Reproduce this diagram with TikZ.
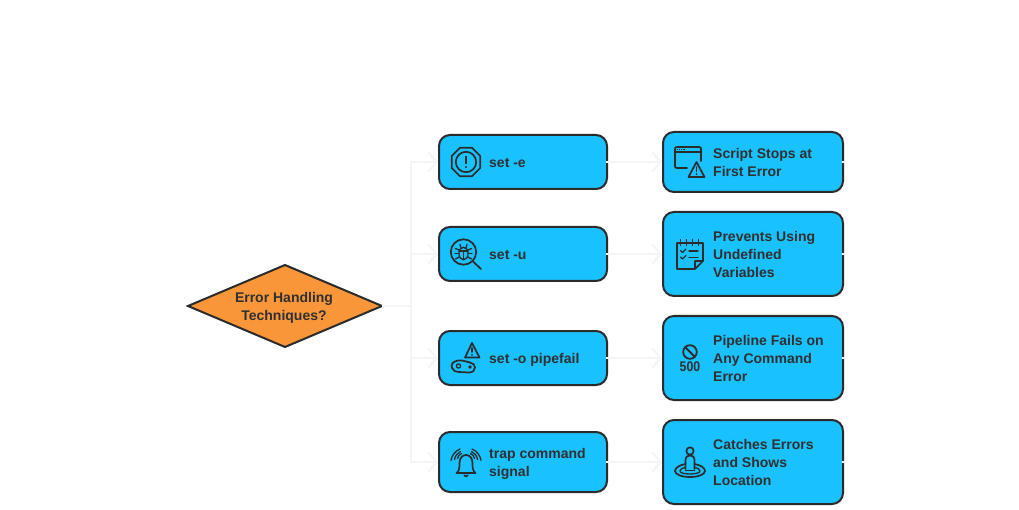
\documentclass[tikz,border=0pt]{standalone}
\usepackage{fontspec}
\setmainfont{Liberation Sans}
\usetikzlibrary{arrows.meta,shapes.geometric,calc}
\definecolor{ink}{HTML}{2B2B2B}
\definecolor{txt}{HTML}{303030}
\definecolor{boxblue}{HTML}{1AC1FF}
\definecolor{orangefill}{HTML}{F9963A}
\definecolor{wire}{HTML}{F5F5F5}
\tikzset{
  box/.style={draw=ink,fill=boxblue,line width=2pt,rounded corners=11pt,minimum width=#1,inner sep=0pt,outer sep=0pt},
  label/.style={text=txt,font=\fontsize{14}{18}\selectfont\bfseries,align=left,anchor=west,inner sep=0pt},
  wirebase/.style={color=wire,line width=2.2pt},
  wirearrow/.style={wirebase,-{Straight Barb[length=8pt,width=19pt,line width=2.2pt,color=wire]},shorten >=1pt},
  ico/.style={draw=ink,line width=1.7pt,line cap=round,line join=round,fill=none},
  thinico/.style={draw=ink,line width=1.3pt,line cap=round,line join=round,fill=none},
}
\begin{document}
\begin{tikzpicture}[x=1pt,y=-1pt]
\useasboundingbox (0,0) rectangle (1019,510);
% decision
\node[diamond,draw=ink,fill=orangefill,line width=2pt,minimum width=194pt,minimum height=82pt,inner sep=0pt,outer sep=0pt,aspect=2.37] (root) at (285,306) {};
\node[label,anchor=center,align=center] (roottext) at (284,307.5) {Error Handling\\Techniques?};
% boxes left
\node[box=168pt,minimum height=54pt] (a1) at (523,162) {};
\node[box=168pt,minimum height=54pt] (a2) at (523,254) {};
\node[box=168pt,minimum height=54pt] (a3) at (523,358) {};
\node[box=168pt,minimum height=60pt] (a4) at (523,462) {};
% boxes right
\node[box=180pt,minimum height=60pt] (b1) at (753,162) {};
\node[box=180pt,minimum height=84pt] (b2) at (753,254) {};
\node[box=180pt,minimum height=84pt] (b3) at (753,358) {};
\node[box=180pt,minimum height=84pt] (b4) at (753,462) {};
% connectors
\coordinate (hub) at (411,306);
\draw[wirebase,shorten <=-0.5pt] (root.east) -- (hub);
\draw[wirearrow] (hub) |- (a1.west);
\draw[wirearrow] (hub) |- (a2.west);
\draw[wirearrow] (hub) |- (a3.west);
\draw[wirearrow] (hub) |- (a4.west);
\draw[wirearrow,shorten <=-1pt] (a1.east) -- (b1.west);
\draw[wirearrow,shorten <=-1pt] (a2.east) -- (b2.west);
\draw[wirearrow,shorten <=-1pt] (a3.east) -- (b3.west);
\draw[wirearrow,shorten <=-1pt] (a4.east) -- (b4.west);
\foreach \n in {b1,b2,b3,b4} \draw[wirebase] ($(\n.east)+(-1,0)$) -- ($(\n.east)+(1.2,0)$);
% texts
\node[label] (t1) at (489,163) {set -e};
\node[label] (t2) at (489,255) {set -u};
\node[label] (t3) at (489,359.5) {set -o pipefail};
\node[label] (t4) at (489,463.5) {trap command\\signal};
\node[label] (r1) at (713,162.5) {Script Stops at\\First Error};
\node[label] (r2) at (713,254) {Prevents Using\\Undefined\\Variables};
\node[label] (r3) at (713,358) {Pipeline Fails on\\Any Command\\Error};
\node[label] (r4) at (713,462) {Catches Errors\\and Shows\\Location};
% icon: stop octagon
\begin{scope}[shift={(466,162)}]
\draw[ico] (22.5:15.5) -- (67.5:15.5) -- (112.5:15.5) -- (157.5:15.5) -- (202.5:15.5) -- (247.5:15.5) -- (292.5:15.5) -- (337.5:15.5) -- cycle;
\draw[ico] (0,0) circle (10.2);
\draw[ico] (0,-5.5) -- (0,1.5);
\fill[ink] (0,5) circle (1.2);
\end{scope}
% icon: bug magnifier
\begin{scope}[shift={(463.5,252)}]
\draw[ico] (0,0) circle (12.7);
\draw[ico] (9.5,9.5) -- (17.5,17);
\draw[thinico] (0,1.5) ellipse (4.6 and 6.3);
\draw[thinico] (-2.5,-4) -- (-3.5,-7.5) (2.5,-4) -- (3.5,-7.5);
\draw[thinico] (-4.5,-2) -- (-8,-3.5) (4.5,-2) -- (8,-3.5);
\draw[thinico] (-4.6,1.5) -- (-8.5,1.5) (4.6,1.5) -- (8.5,1.5);
\draw[thinico] (-4.3,5) -- (-8,7) (4.3,5) -- (8,7);
\draw[thinico] (-4.5,-1) -- (4.5,-1);
\draw[thinico] (0,-1) -- (0,7.5);
\end{scope}
% icon: belt with warning triangle
\begin{scope}[shift={(472,350)}]
\draw[ico] (0,-7) -- (7.5,7.5) -- (-7,7.5) -- cycle;
\draw[ico] (0,-2) -- (0,2);
\fill[ink] (0,4.8) circle (1);
\end{scope}
\draw[ico] (458,360.5) .. controls (452,361.5) and (451,365) .. (452,368) .. controls (453,371) and (456,372) .. (459,372) -- (469,372.5) .. controls (473,372.5) and (475,370) .. (475,367.5) .. controls (475,365) and (473,363) .. (470,362.5) -- (466,361.5) .. controls (463,360.5) and (461,360) .. (458,360.5) -- cycle;
\draw[thinico] (458.5,366) circle (2.1);
\fill[ink] (470,367) circle (1.8);
% icon: bell
\begin{scope}[shift={(466,462)}]
\draw[ico] (-9.5,11) .. controls (-6.5,9) and (-6.5,5) .. (-6.5,1) .. controls (-6.5,-4) and (-3.5,-7) .. (0,-7) .. controls (3.5,-7) and (6.5,-4) .. (6.5,1) .. controls (6.5,5) and (6.5,9) .. (9.5,11) -- cycle;
\draw[ico] (-1.8,13.2) .. controls (-1.5,15) and (1.5,15) .. (1.8,13.2);
\draw[thinico] (-8.5,-3.5) .. controls (-8,-6) and (-6.5,-7.5) .. (-4.5,-8.5);
\draw[thinico] (-11.5,-2.5) .. controls (-11,-6) and (-8.5,-9) .. (-5.5,-10.5);
\draw[thinico] (-15,-1.5) .. controls (-14.5,-6) and (-11,-11) .. (-6,-13);
\draw[thinico] (8.5,-3.5) .. controls (8,-6) and (6.5,-7.5) .. (4.5,-8.5);
\draw[thinico] (11.5,-2.5) .. controls (11,-6) and (8.5,-9) .. (5.5,-10.5);
\draw[thinico] (15,-1.5) .. controls (14.5,-6) and (11,-11) .. (6,-13);
\end{scope}
% icon: window warning
\draw[ico] (687,168) -- (677,168) .. controls (675.5,168) and (675,167.5) .. (675,166) -- (675,149) .. controls (675,147.5) and (675.5,147) .. (677,147) -- (699,147) .. controls (700.5,147) and (701,147.5) .. (701,149) -- (701,161);
\draw[ico] (675,152) -- (701,152);
\draw[draw=ink,dash pattern=on 1.2pt off 0.9pt,line width=1.6pt] (677,149.5) -- (685,149.5);
\draw[ico] (696.5,162) -- (704.5,177) -- (688.5,177) -- cycle;
\draw[ico] (696.5,167) -- (696.5,171.5);
\fill[ink] (696.5,174.2) circle (1);
% icon: checklist
\draw[ico] (695,269) -- (677,269) -- (677,243) -- (703,243) -- (703,261) -- (695,269) -- (695,261) -- (703,261);
\draw[thinico] (680.5,239.5) -- (680.5,245.5) (686.5,239.5) -- (686.5,245.5) (692.5,239.5) -- (692.5,245.5) (698.5,239.5) -- (698.5,245.5);
\draw[thinico] (680.5,250.5) -- (682.5,252.5) -- (686,249);
\draw[thinico] (680.5,257) -- (682.5,259) -- (686,255.5);
\draw[thinico] (689,251) -- (698,251) (689,257.5) -- (698,257.5);
% icon: 500 forbidden
\draw[ico,line width=1.8pt] (690,352) circle (6.8);
\draw[ico,line width=1.8pt] (685.2,347.2) -- (694.8,356.8);
\node[text=txt,font=\fontsize{14}{14}\selectfont\bfseries,inner sep=0pt,xscale=0.88] (code) at (690,367) {500};
% icon: person on target
\draw[ico] (690,451) circle (3.7);
\draw[ico] (685.5,469) -- (685.5,459.5) .. controls (685.5,457) and (687,455.5) .. (690,455.5) .. controls (693,455.5) and (694.5,457) .. (694.5,459.5) -- (694.5,469);
\draw[ico] (685.5,464) .. controls (680,465) and (675,467.5) .. (675,471) .. controls (675,474.5) and (682,477) .. (690,477) .. controls (698,477) and (705,474.5) .. (705,471) .. controls (705,467.5) and (700,465) .. (694.5,464);
\draw[thinico] (685.5,467.5) .. controls (682,468) and (680,469.5) .. (680,471) .. controls (680,472.8) and (684,474) .. (690,474) .. controls (696,474) and (700,472.8) .. (700,471) .. controls (700,469.5) and (698,468) .. (694.5,467.5);
\draw[thinico] (685.5,470.5) -- (694.5,470.5);
\end{tikzpicture}
\end{document}
